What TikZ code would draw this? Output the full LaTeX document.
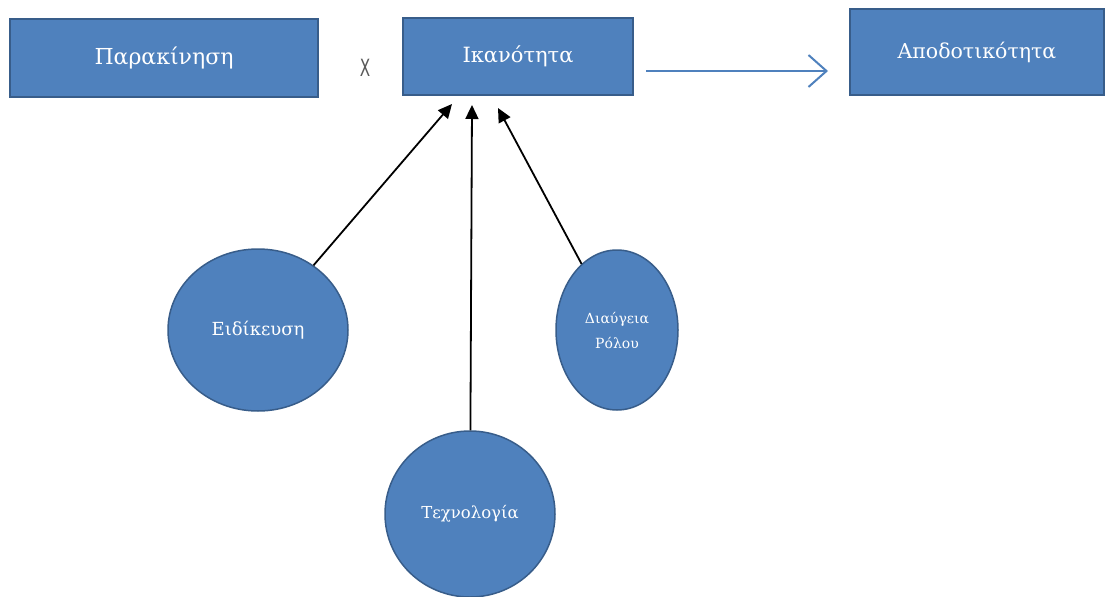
\documentclass[tikz,border=0pt]{standalone}
\usepackage{graphicx}
\usepackage{fontspec}
\setmainfont{DejaVu Serif}
\setsansfont{DejaVu Sans}
\usetikzlibrary{shapes.geometric,arrows.meta}
\definecolor{boxfill}{HTML}{4F81BD}
\definecolor{boxline}{HTML}{385D8A}
\definecolor{xgray}{HTML}{595959}
\tikzset{
  bluebox/.style={rectangle, fill=boxfill, draw=boxline, line width=2pt, text=white, inner sep=0pt},
  blueoval/.style={ellipse, fill=boxfill, draw=boxline, line width=1.5pt, text=white, inner sep=0pt, align=center},
  feed/.style={-{Triangle[length=14pt,width=13pt]}, line width=1.8pt, black},
  result/.style={-{Straight Barb[length=18pt,width=32pt,line width=2pt]}, line width=2pt, boxfill},
}
\begin{document}
\begin{tikzpicture}[x=1pt,y=-1pt]
\useasboundingbox (0,0) rectangle (1106,597);
\node[bluebox, minimum width=308pt, minimum height=78pt, font=\fontsize{22}{26}\selectfont] (motiv) at (164,57.5) {Παρακίνηση};
\node[bluebox, minimum width=230pt, minimum height=77pt, font=\fontsize{21}{25}\selectfont] (abil) at (518,56.5) {Ικανότητα};
\node[bluebox, minimum width=254pt, minimum height=86pt, font=\fontsize{20.5}{24}\selectfont] (perf) at (977,52) {Αποδοτικότητα};
\node[text=xgray, font=\sffamily\fontsize{19}{24}\selectfont] (times) at (365,68) {\scalebox{0.8}[1.25]{X}};
\node[blueoval, minimum width=180pt, minimum height=162pt, font=\fontsize{18}{21}\selectfont] (spec) at (258,330) {Ειδίκευση};
\node[blueoval, minimum width=122pt, minimum height=160pt, font=\fontsize{14}{25}\selectfont] (role) at (617,330) {Διαύγεια\\Ρόλου};
\node[blueoval, minimum width=170pt, minimum height=166pt, font=\fontsize{16.5}{20}\selectfont] (tech) at (470,514) {Τεχνολογία};
\coordinate (t1) at (452,104);
\coordinate (t2) at (472,105);
\coordinate (t3) at (498,108);
\coordinate (a1) at (646,71);
\coordinate (a2) at (828,71);
\draw[feed] (spec) -- (t1);
\draw[feed] (tech) -- (t2);
\draw[feed] (role) -- (t3);
\draw[result] (a1) -- (a2);
\end{tikzpicture}
\end{document}
